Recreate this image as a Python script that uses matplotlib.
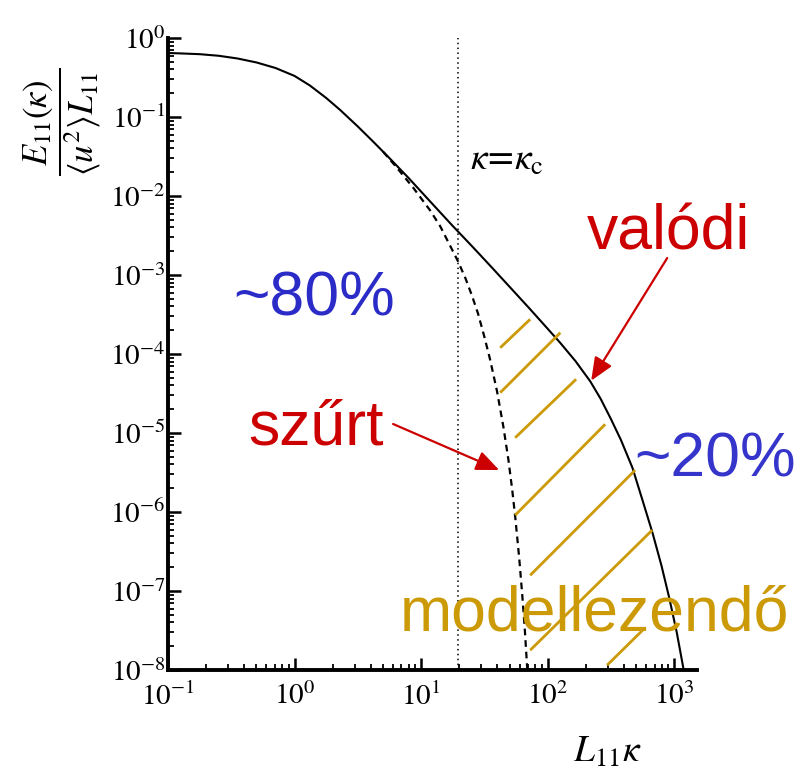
import matplotlib
matplotlib.use("Agg")
import matplotlib.pyplot as plt
from matplotlib.ticker import LogLocator, FixedLocator, NullFormatter

plt.rcParams['mathtext.fontset'] = 'stix'
plt.rcParams['font.family'] = ['Liberation Serif', 'DejaVu Serif']

# ---- data ----
solid_x = [0.1, 0.126, 0.178, 0.251, 0.355, 0.501, 0.708, 1.0, 1.32, 1.78, 2.29,
           3.16, 4.17, 5.62, 7.94, 11.2, 17.8, 25.1, 35.5, 50.1, 72.4, 100, 126,
           166, 217, 263, 316, 380, 468, 562, 676, 794, 912, 1047, 1202]
solid_y = [0.646, 0.638, 0.624, 0.596, 0.550, 0.490, 0.417, 0.331, 0.251, 0.174,
           0.123, 0.0759, 0.0490, 0.0302, 0.0170, 9.33e-3, 4.17e-3, 2.34e-3,
           1.29e-3, 7.08e-4, 3.72e-4, 2.09e-4, 1.38e-4, 8.13e-5, 4.52e-5, 2.69e-5,
           1.51e-5, 8.13e-6, 3.63e-6, 1.41e-6, 5.37e-7, 2.09e-7, 8.32e-8, 3.02e-8,
           9.12e-9]

dashed_x = [5.01, 6.31, 8.71, 11.75, 14.13, 16.6, 19.5, 22.4, 25.1, 28.2, 31.6,
            35.1, 39.8, 44.7, 49.0, 52.5, 55.6, 59.6, 63.1, 66.1, 69.2]
dashed_y = [0.0363, 0.0237, 0.0126, 6.61e-3, 4.17e-3, 2.51e-3, 1.51e-3, 9.12e-4,
            5.62e-4, 3.24e-4, 1.66e-4, 8.51e-5, 3.39e-5, 1.20e-5, 4.57e-6, 1.91e-6,
            8.32e-7, 2.63e-7, 8.71e-8, 3.16e-8, 9.55e-9]

kappa_c = 19.5

# hatch segments of the modelled region (start / end points)
hatch_x0 = [42.2, 42.2, 55.4, 55.4, 72.8, 72.8, 295]
hatch_y0 = [1.20e-4, 3.24e-5, 8.71e-6, 9.12e-7, 1.58e-7, 1.78e-8, 1.15e-8]
hatch_x1 = [72.8, 126, 168, 285, 492, 670, 569]
hatch_y1 = [2.75e-4, 1.86e-4, 4.79e-5, 1.29e-5, 3.39e-6, 5.89e-7, 3.24e-8]

xticks = [1e-1, 1e0, 1e1, 1e2, 1e3]
xtick_labels = [r'$10^{-1}$', r'$10^{0}$', r'$10^{1}$', r'$10^{2}$', r'$10^{3}$']
yticks = [1e-8, 1e-7, 1e-6, 1e-5, 1e-4, 1e-3, 1e-2, 1e-1, 1e0]
ytick_labels = [r'$10^{-8}$', r'$10^{-7}$', r'$10^{-6}$', r'$10^{-5}$', r'$10^{-4}$',
                r'$10^{-3}$', r'$10^{-2}$', r'$10^{-1}$', r'$10^{0}$']

BLUE = '#2B2BC8'
RED = '#CC0000'
GOLD = '#CC9A06'

fig = plt.figure(figsize=(8.01, 7.71), dpi=100)
ax = fig.add_axes([168/801, 1-670/771, (697-168)/801, (670-38)/771])
ax.set_xscale('log')
ax.set_yscale('log')
ax.set_xlim(0.1, 1515)
ax.set_ylim(1e-8, 1)

ax.plot(solid_x, solid_y, color='black', lw=1.5, solid_capstyle='round',
        solid_joinstyle='round')
ax.plot(dashed_x, dashed_y, color='black', lw=1.6, linestyle=(0, (3, 2.2)))
ax.axvline(kappa_c, color='black', lw=1.1, linestyle=(0, (1, 2.2)))

for x0, y0, x1, y1 in zip(hatch_x0, hatch_y0, hatch_x1, hatch_y1):
    ax.plot([x0, x1], [y0, y1], color=GOLD, lw=2.0, solid_capstyle='butt')

for s in ['top', 'right']:
    ax.spines[s].set_visible(False)
for s in ['left', 'bottom']:
    ax.spines[s].set_linewidth(2.8)

ax.xaxis.set_major_locator(FixedLocator(xticks))
ax.set_xticklabels(xtick_labels)
ax.yaxis.set_major_locator(FixedLocator(yticks))
ax.set_yticklabels(ytick_labels)
ax.xaxis.set_minor_locator(LogLocator(base=10, subs=range(2, 10), numticks=20))
ax.yaxis.set_minor_locator(LogLocator(base=10, subs=range(2, 10), numticks=20))
ax.xaxis.set_minor_formatter(NullFormatter())
ax.yaxis.set_minor_formatter(NullFormatter())
ax.tick_params(which='major', direction='in', length=9, width=1.8, labelsize=21)
ax.tick_params(which='minor', direction='in', length=4.5, width=1.3)
ax.tick_params(axis='x', which='major', pad=9)
ax.tick_params(axis='y', which='major', pad=2)

ax.text(0.83, -0.13, r'$L_{11}\kappa$', transform=ax.transAxes, fontsize=27,
        ha='center', va='center')
ax.text(-0.20, 0.867, r'$\dfrac{E_{11}(\kappa)}{\langle u^2\rangle L_{11}}$',
        transform=ax.transAxes, fontsize=25, rotation=90, ha='center', va='center')
ax.text(24.4, 0.0214, r'$\kappa\!=\!\kappa_{\rm c}$', fontsize=27,
        ha='left', va='baseline')

sans = ['Liberation Sans', 'DejaVu Sans']
ax.text(0.327, 3.1e-4, '~80%', color=BLUE, fontsize=45, family=sans,
        ha='left', va='baseline')
ax.text(480, 2.8e-6, '~20%', color='#3535CC', fontsize=45, family=sans,
        ha='left', va='baseline')
ax.text(205, 2.09e-3, 'valódi', color=RED, fontsize=45, family=sans,
        ha='left', va='baseline')
ax.text(0.428, 7.08e-6, 'szűrt', color=RED, fontsize=45, family=sans,
        ha='left', va='baseline')
ax.text(6.82, 3.2e-8, 'modellezendő', color=GOLD, fontsize=45, family=sans,
        ha='left', va='baseline')

arrow = dict(arrowstyle='-|>,head_length=0.7,head_width=0.3', color=RED, lw=1.6,
             shrinkA=0, shrinkB=0, mutation_scale=20)
ax.annotate('', xy=(221, 4.6e-5), xytext=(881, 1.64e-3), arrowprops=arrow)
ax.annotate('', xy=(41.4, 3.40e-6), xytext=(6.01, 1.30e-5), arrowprops=arrow)

fig.savefig('out.png', dpi=100)
